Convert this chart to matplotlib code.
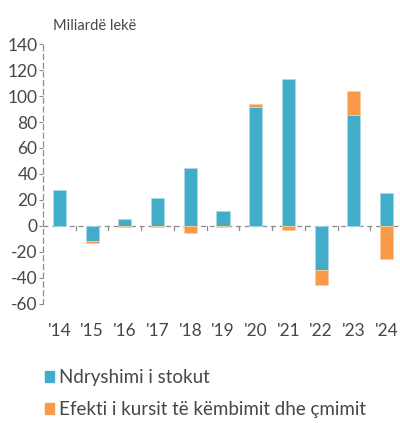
import matplotlib
matplotlib.use("Agg")
import matplotlib.pyplot as plt
from matplotlib.patches import Patch

years = ["'14", "'15", "'16", "'17", "'18", "'19", "'20", "'21", "'22", "'23", "'24"]
stock = [27.3, -11.6, 5.2, 21.1, 44.5, 11.7, 91.7, 113.3, -34.3, 85.3, 25.1]
effect = [0.0, -1.5, -0.8, -1.0, -5.4, -1.0, 2.0, -3.2, -11.8, 19.0, -25.8]

blue = "#42ADC9"
orange = "#F99A4A"
grey = "#8C8C8C"
txt = "#474747"

plt.rcParams["font.family"] = ["Lato", "DejaVu Sans"]

fig = plt.figure(figsize=(4.0, 4.23), dpi=100)
ax = fig.add_axes([0.1075, 0.2825, 0.9, 0.6128])

x = list(range(len(years)))
ax.bar(x, stock, width=0.4, color=blue, edgecolor="#A8DCEA", linewidth=0.6, zorder=2)
bottoms = [max(s, 0) if e >= 0 else min(s, 0) for s, e in zip(stock, effect)]
ax.bar(x, effect, bottom=bottoms, width=0.4, color=orange,
       edgecolor=["none" if e == 0 else "#FCCB9F" for e in effect],
       linewidth=0.6, zorder=2)

ax.set_xlim(-0.5, 10.5)
ax.set_ylim(-60, 140)
ax.set_yticks(range(-60, 141, 20))
ax.set_yticklabels([str(v) for v in range(-60, 141, 20)], fontsize=12.5, color=txt)
ax.tick_params(axis="y", length=3, color=grey, pad=1)

ax.set_xticks(x)
ax.set_xticklabels(years, fontsize=12.5, color=txt)
ax.tick_params(axis="x", length=0, pad=14)

for s in ["top", "right", "bottom"]:
    ax.spines[s].set_visible(False)
ax.spines["left"].set_color(grey)
ax.spines["left"].set_linestyle((0, (4, 3)))
ax.spines["left"].set_linewidth(0.9)

# dashed zero line with small ticks between categories
ax.axhline(0, color=grey, linestyle=(0, (4, 3)), linewidth=0.9, zorder=1)
for b in [i + 0.5 for i in range(len(years) - 1)]:
    ax.plot([b, b], [0, -3.2], color=grey, linewidth=0.9, zorder=1)

fig.text(0.133, 0.939, "Miliardë lekë", fontsize=10.5, color=txt, va="center")

handles = [Patch(color=blue, label="Ndryshimi i stokut"),
           Patch(color=orange, label="Efekti i kursit të këmbimit dhe çmimit")]
fig.legend(handles=handles, loc="lower left", bbox_to_anchor=(0.07, -0.028),
           frameon=False, fontsize=13.5, handlelength=0.5, handleheight=0.5,
           handletextpad=0.25, labelspacing=0.8, labelcolor=txt)

fig.savefig("out.png", dpi=100)
